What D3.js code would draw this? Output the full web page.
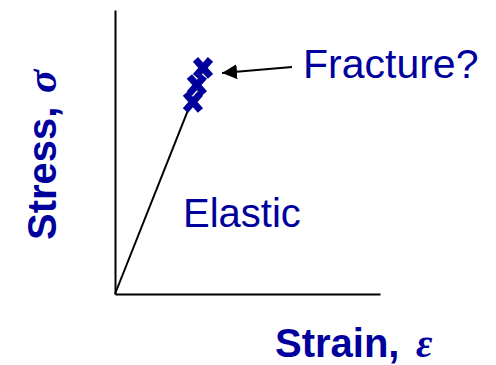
<!DOCTYPE html>
<html>
<head>
<meta charset="utf-8">
<script src="https://cdn.jsdelivr.net/npm/d3@7"></script>
<style>
  html, body { margin: 0; padding: 0; background: #fff; }
  svg { display: block; }
</style>
</head>
<body>
<div id="chart"></div>
<script>
// Schematic stress-strain curve, values in arbitrary units (0-10)
const curveStrain = [0, 2.83];
const curveStress = [0, 6.65];

const markStrain = [2.94, 3.09, 3.32];
const markStress = [6.76, 7.36, 7.96];

// arrow: tail -> tip
const arrowStrain = [6.68, 4.04];
const arrowStress = [7.99, 7.78];

const xLabel = 'Strain,';
const yLabel = 'Stress,';
const xSymbol = '\u03B5';
const ySymbol = '\u03C3';
const noteFracture = 'Fracture?';
const noteElastic = 'Elastic';

const width = 496;
const height = 365;
const blue = '#00009c';

const svg = d3.select('#chart')
  .append('svg')
  .attr('width', width)
  .attr('height', height);

const x = d3.scaleLinear().domain([0, 10]).range([115, 380]);
const y = d3.scaleLinear().domain([0, 10]).range([294, 10]);

// Axes, plain lines without ticks
svg.append('g')
  .attr('transform', `translate(0,${y(0)})`)
  .call(d3.axisBottom(x).tickValues([]).tickSizeOuter(0))
  .select('.domain')
  .attr('stroke', '#000')
  .attr('stroke-width', 2);

svg.append('g')
  .attr('transform', `translate(${x(0)},0)`)
  .call(d3.axisLeft(y).tickValues([]).tickSizeOuter(0))
  .select('.domain')
  .attr('stroke', '#000')
  .attr('stroke-width', 2);

// Elastic line
const line = d3.line()
  .x(d => x(d[0]))
  .y(d => y(d[1]));

svg.append('path')
  .datum(d3.zip(curveStrain, curveStress))
  .attr('d', line)
  .attr('fill', 'none')
  .attr('stroke', '#000')
  .attr('stroke-width', 2);

// X markers
svg.selectAll('path.mark')
  .data(d3.zip(markStrain, markStress))
  .enter()
  .append('path')
  .attr('class', 'mark')
  .attr('transform', d => `translate(${x(d[0])},${y(d[1])})`)
  .attr('d', 'M-7.5,-8.5L7.5,8.5M7.5,-8.5L-7.5,8.5')
  .attr('stroke', blue)
  .attr('stroke-width', 7)
  .attr('fill', 'none');

// Arrow to the fracture note
svg.append('defs').append('marker')
  .attr('id', 'head')
  .attr('viewBox', '0 0 10 10')
  .attr('refX', 10)
  .attr('refY', 5)
  .attr('markerWidth', 15)
  .attr('markerHeight', 15)
  .attr('markerUnits', 'userSpaceOnUse')
  .attr('orient', 'auto')
  .append('path')
  .attr('d', 'M0,0L10,5L0,10Z')
  .attr('fill', '#000');

svg.append('path')
  .datum(d3.zip(arrowStrain, arrowStress))
  .attr('d', line)
  .attr('stroke', '#000')
  .attr('stroke-width', 2)
  .attr('marker-end', 'url(#head)');

// Notes
svg.append('text')
  .attr('x', 303)
  .attr('y', 78)
  .style('font-family', '"Liberation Sans", Arial, sans-serif')
  .style('font-size', '41px')
  .style('fill', blue)
  .text(noteFracture);

svg.append('text')
  .attr('x', 183)
  .attr('y', 227)
  .style('font-family', '"Liberation Sans", Arial, sans-serif')
  .style('font-size', '40px')
  .style('fill', blue)
  .text(noteElastic);

// Axis titles
const xTitle = svg.append('text')
  .attr('x', 275)
  .attr('y', 357)
  .style('font-family', '"Liberation Sans", Arial, sans-serif')
  .style('font-size', '40px')
  .style('font-weight', 'bold')
  .style('fill', blue);
xTitle.append('tspan').text(xLabel);
xTitle.append('tspan')
  .attr('x', 416)
  .style('font-family', '"Liberation Serif", serif')
  .style('font-style', 'italic')
  .style('font-weight', 'bold')
  .style('font-size', '40px')
  .text(xSymbol);

const yTitle = svg.append('text')
  .attr('transform', 'translate(56,240) rotate(-90)')
  .style('font-family', '"Liberation Sans", Arial, sans-serif')
  .style('font-size', '40px')
  .style('font-weight', 'bold')
  .style('fill', blue);
yTitle.append('tspan').text(yLabel);
yTitle.append('tspan')
  .attr('x', 147)
  .style('font-family', '"Liberation Serif", serif')
  .style('font-style', 'italic')
  .style('font-weight', 'bold')
  .style('font-size', '43px')
  .text(ySymbol);
</script>
</body>
</html>
